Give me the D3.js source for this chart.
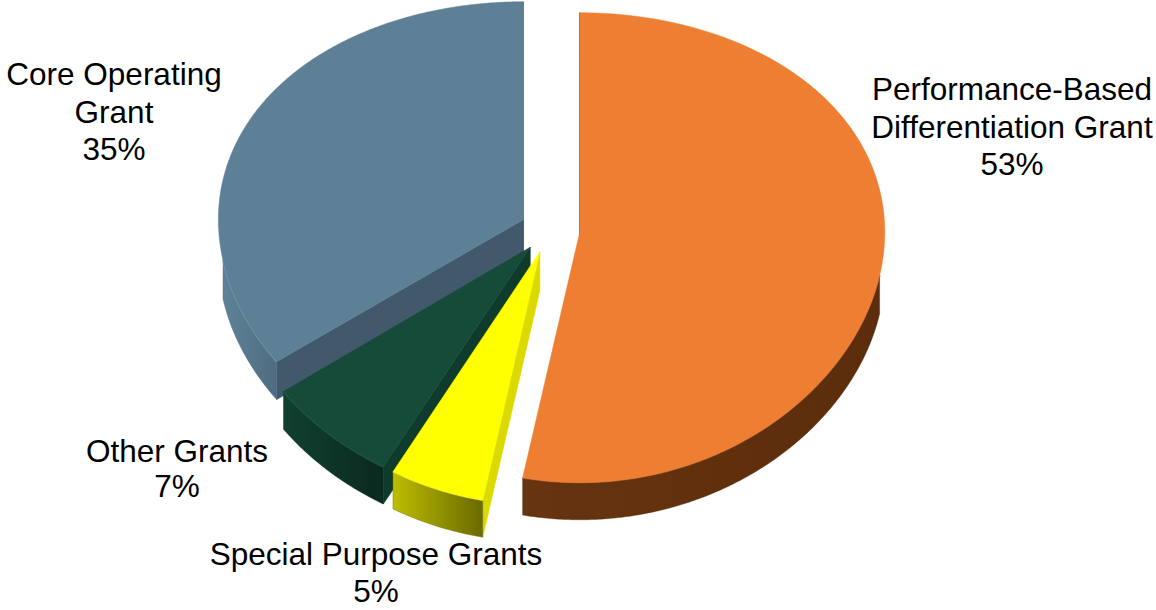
<!DOCTYPE html>
<html>
<head>
<meta charset="utf-8">
<script src="https://cdn.jsdelivr.net/npm/d3@7"></script>
<style>
  html, body { margin: 0; padding: 0; background: #ffffff; }
  svg { display: block; }
  text { font-family: "Liberation Sans", Arial, sans-serif; }
</style>
</head>
<body>
<svg id="chart" width="1156" height="610"></svg>
<script>
// ---- data -------------------------------------------------------------
const categories = [
  "Performance-Based Differentiation Grant",
  "Special Purpose Grants",
  "Other Grants",
  "Core Operating Grant"
];
const labelLines = [
  ["Performance-Based", "Differentiation Grant"],
  ["Special Purpose Grants"],
  ["Other Grants"],
  ["Core Operating", "Grant"]
];
const shares = [53, 5, 7, 35];

// ---- styling ------------------------------------------------------------
const topColors   = ["#EE7E32", "#FFFF00", "#174B39", "#5E8096"];
const wallColors  = ["#4A2409", "#DADA00", "#0E3B2B", "#42596B"];
const sideFrom    = ["#66340F", "#BDBD00", "#10402F", "#5F8298"];
const sideTo      = ["#5C2D0C", "#6A6A00", "#0A2A1E", "#4E6C80"];
const rimColors   = ["#8A4A1E", "#E0E060", "#2E6A55", "#86A8BE"];

// label anchors (centre x, first baseline y) and line spacing
const labelAnchor = [[1012, 100], [376, 565], [177, 462], [114, 85]];
const lineGap = [37.5, 37, 35, 37.5];

// ---- 3D pie geometry -----------------------------------------------------
const view = {
  cx: 550, cy: 230,          // screen position of the pie centre
  dist: 9.72,                // camera distance in pie radii
  tilt: 50 * Math.PI / 180,  // elevation of the camera
  depth: 0.2,                // thickness of the pie in radii
  explode: 0.098             // offset of each slice along its mid angle
};
const sa = Math.sin(view.tilt), ca = Math.cos(view.tilt);
const camera = [0, view.dist * sa, view.dist * ca];

// one radius maps to 305px
const xScale = d3.scaleLinear().domain([-1, 1]).range([view.cx - 305, view.cx + 305]);
const yScale = d3.scaleLinear().domain([-1, 1]).range([view.cy + 305, view.cy - 305]);

// foreshortening is applied to the vertical axis only
function project(X, Y, Z) {
  const yc = Y * ca - Z * sa;
  const zc = view.dist - Y * sa - Z * ca;
  return [xScale(X), yScale(yc * view.dist / zc)];
}

const pie = d3.pie().sort(null).value(d => d).startAngle(0).endAngle(2 * Math.PI);
const arcs = pie(shares);

function offsetOf(a) {
  const m = (a.startAngle + a.endAngle) / 2;
  return [view.explode * Math.sin(m), -view.explode * Math.cos(m)];
}
function world(a, theta, r, Y) {
  const [ox, oz] = offsetOf(a);
  return [r * Math.sin(theta) + ox, Y, -r * Math.cos(theta) + oz];
}
function facing(P, n) {
  return (camera[0] - P[0]) * n[0] + (camera[1] - P[1]) * n[1] + (camera[2] - P[2]) * n[2] > 0;
}
const toScreen = P => project(P[0], P[1], P[2]);
const line = d3.line().x(d => d[0]).y(d => d[1]);
const closed = pts => line(pts) + "Z";

const svg = d3.select("#chart");
const defs = svg.append("defs");
arcs.forEach((a, i) => {
  const g = defs.append("linearGradient").attr("id", "side" + i)
    .attr("x1", 0).attr("y1", 0).attr("x2", 1).attr("y2", 0);
  g.append("stop").attr("offset", 0).attr("stop-color", sideFrom[i]);
  g.append("stop").attr("offset", 1).attr("stop-color", sideTo[i]);
});

// back-to-front drawing order: core, performance, other, special
const order = [3, 0, 2, 1];
const T = -view.depth;

order.forEach(i => {
  const a = arcs[i];
  const g = svg.append("g").attr("class", "slice");
  const step = Math.PI / 360;
  const thetas = d3.range(a.startAngle, a.endAngle, step).concat([a.endAngle]);

  // radial cut faces
  [[a.startAngle, -1], [a.endAngle, 1]].forEach(([e, sgn]) => {
    const nd = e + sgn * Math.PI / 2;
    const n = [Math.sin(nd), 0, -Math.cos(nd)];
    const apex = world(a, e, 0, T / 2);
    if (!facing(apex, n)) return;
    const quad = [world(a, e, 0, 0), world(a, e, 1, 0), world(a, e, 1, T), world(a, e, 0, T)].map(toScreen);
    g.append("path").attr("d", closed(quad)).attr("fill", wallColors[i])
      .attr("stroke", wallColors[i]).attr("stroke-width", 0.6);
  });

  // outer rim, only the part turned towards the camera
  const runs = [];
  let cur = null;
  thetas.forEach(t => {
    const P = world(a, t, 1, T / 2);
    const ok = facing(P, [Math.sin(t), 0, -Math.cos(t)]);
    if (ok) { if (!cur) { cur = []; runs.push(cur); } cur.push(t); }
    else cur = null;
  });
  runs.forEach(run => {
    if (run.length < 2) return;
    const topPts = run.map(t => toScreen(world(a, t, 1, 0)));
    const botPts = run.map(t => toScreen(world(a, t, 1, T))).reverse();
    g.append("path").attr("d", closed(topPts.concat(botPts)))
      .attr("fill", `url(#side${i})`).attr("stroke", sideTo[i]).attr("stroke-width", 0.4);
    g.append("path").attr("d", line(topPts)).attr("fill", "none")
      .attr("stroke", rimColors[i]).attr("stroke-width", 1.6).attr("stroke-opacity", 0.7);
  });

  // top face
  const face = [toScreen(world(a, 0, 0, 0))].concat(thetas.map(t => toScreen(world(a, t, 1, 0))));
  g.append("path").attr("d", closed(face)).attr("fill", topColors[i])
    .attr("stroke", topColors[i]).attr("stroke-width", 0.5);
});

// ---- labels ---------------------------------------------------------------
const labels = svg.append("g").attr("class", "labels");
arcs.forEach((a, i) => {
  const t = labels.append("text")
    .attr("x", labelAnchor[i][0]).attr("y", labelAnchor[i][1])
    .attr("text-anchor", "middle")
    .attr("font-size", 31.5)
    .attr("fill", "#000000");
  const lines = labelLines[i].concat([Math.round(a.data) + "%"]);
  lines.forEach((s, k) => {
    t.append("tspan").attr("x", labelAnchor[i][0]).attr("dy", k === 0 ? 0 : lineGap[i]).text(s);
  });
});
</script>
</body>
</html>
